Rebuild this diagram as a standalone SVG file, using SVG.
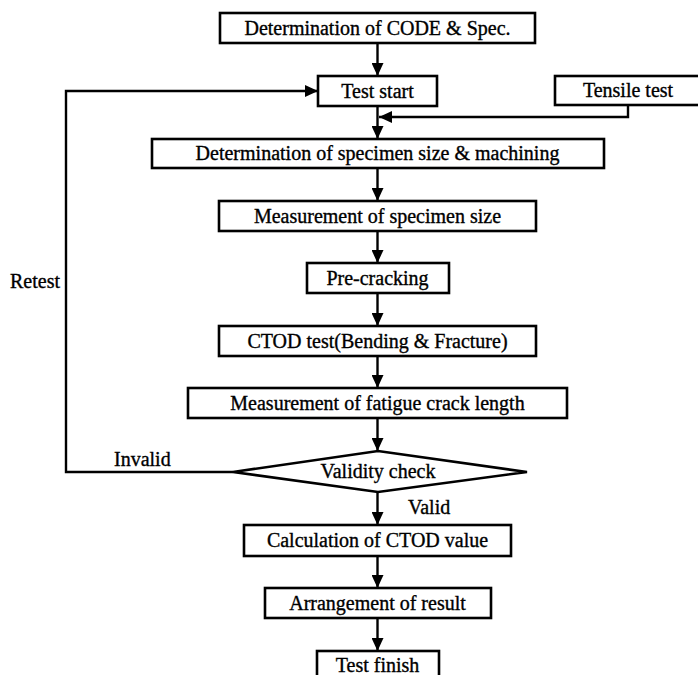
<svg xmlns="http://www.w3.org/2000/svg" width="698" height="675" viewBox="0 0 698 675">
<style>
.box{fill:#fff;stroke:#000;stroke-width:2.6}
.t{font-family:"Liberation Serif","Times New Roman",serif;font-size:20px;fill:#000;stroke:#000;stroke-width:0.35;text-anchor:middle}
.l{font-family:"Liberation Serif","Times New Roman",serif;font-size:20px;fill:#000;stroke:#000;stroke-width:0.35}
.c{fill:none;stroke:#000;stroke-width:2.4}
</style>
<defs>
<marker id="ah" markerUnits="userSpaceOnUse" markerWidth="13" markerHeight="12" refX="13" refY="6" orient="auto" viewBox="0 0 13 12">
<path d="M0,0 L13,6 L0,12 z" fill="#000"/>
</marker>
</defs>
<rect width="698" height="675" fill="#fff"/>
<g id="connectors">
<path class="c" d="M377.5,43 V76" marker-end="url(#ah)"/>
<path class="c" d="M377.5,106 V139" marker-end="url(#ah)"/>
<path class="c" d="M628,105 V117 H379" marker-end="url(#ah)"/>
<path class="c" d="M377.5,168 V201" marker-end="url(#ah)"/>
<path class="c" d="M377.5,231 V263" marker-end="url(#ah)"/>
<path class="c" d="M377.5,293 V326" marker-end="url(#ah)"/>
<path class="c" d="M377.5,356 V388" marker-end="url(#ah)"/>
<path class="c" d="M377.5,418 V451" marker-end="url(#ah)"/>
<path class="c" d="M377.5,492 V525" marker-end="url(#ah)"/>
<path class="c" d="M377.5,556 V588" marker-end="url(#ah)"/>
<path class="c" d="M377.5,618 V651" marker-end="url(#ah)"/>
<path class="c" d="M233,472 H66 V91 H318" marker-end="url(#ah)"/>
<text class="l" x="10" y="288">Retest</text>
<text class="l" x="114" y="466">Invalid</text>
<text class="l" x="408" y="514">Valid</text>
</g>
<g id="n1"><rect class="box" x="220" y="13" width="315" height="30"/><text class="t" x="377.5" y="35">Determination of CODE &amp; Spec.</text></g>
<g id="n2"><rect class="box" x="318" y="76" width="119" height="30"/><text class="t" x="377.5" y="98">Test start</text></g>
<g id="n3"><rect class="box" x="555" y="76" width="150" height="29"/><text class="t" x="628" y="97">Tensile test</text></g>
<g id="n4"><rect class="box" x="152" y="139" width="452" height="29"/><text class="t" x="377.5" y="160">Determination of specimen size &amp; machining</text></g>
<g id="n5"><rect class="box" x="219" y="201" width="317" height="30"/><text class="t" x="377.5" y="223">Measurement of specimen size</text></g>
<g id="n6"><rect class="box" x="307" y="263" width="142" height="30"/><text class="t" x="377.5" y="285">Pre-cracking</text></g>
<g id="n7"><rect class="box" x="219" y="326" width="317" height="30"/><text class="t" x="377.5" y="348">CTOD test(Bending &amp; Fracture)</text></g>
<g id="n8"><rect class="box" x="188" y="388" width="379" height="30"/><text class="t" x="377.5" y="410">Measurement of fatigue crack length</text></g>
<g id="n9"><polygon class="box" points="233,472 378,451 527,472 378,492"/><text class="t" x="378" y="478">Validity check</text></g>
<g id="n10"><rect class="box" x="244" y="525" width="267" height="31"/><text class="t" x="377.5" y="547">Calculation of CTOD value</text></g>
<g id="n11"><rect class="box" x="265" y="588" width="226" height="30"/><text class="t" x="377.5" y="610">Arrangement of result</text></g>
<g id="n12"><rect class="box" x="317" y="651" width="122" height="32"/><text class="t" x="377.5" y="672">Test finish</text></g>
</svg>
